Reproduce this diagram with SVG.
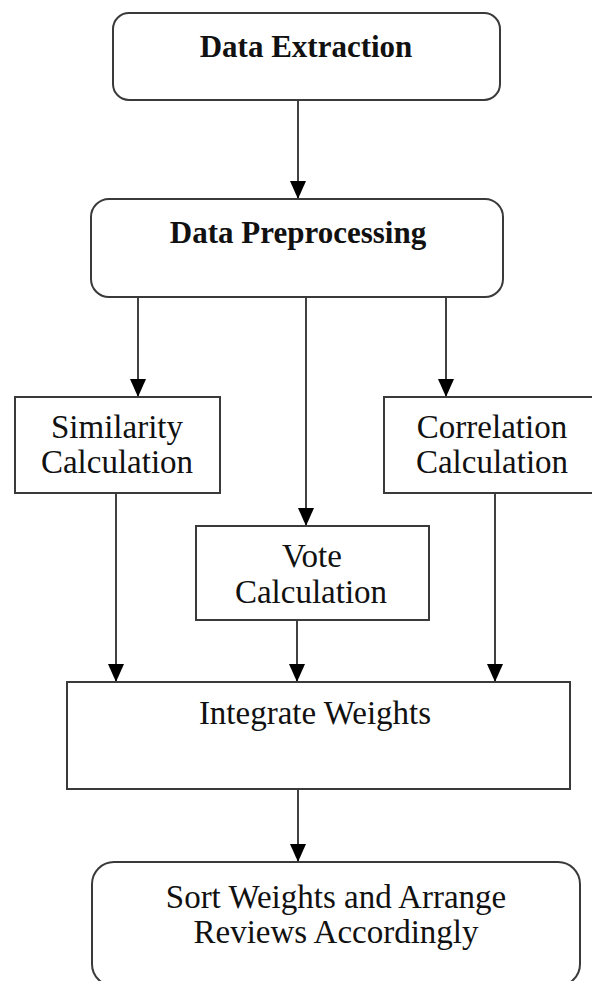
<svg xmlns="http://www.w3.org/2000/svg" width="592" height="981" viewBox="0 0 592 981">
  <style>
    .box { fill: #ffffff; stroke: #3a3a3a; stroke-width: 2; }
    .link { fill: none; stroke: #111111; stroke-width: 1.6; }
    .lbl { font-family: "Liberation Serif", "Times New Roman", serif; font-size: 33px; fill: #111111; text-anchor: middle; }
    .head { font-family: "Liberation Serif", "Times New Roman", serif; font-size: 31px; font-weight: bold; fill: #111111; text-anchor: middle; }
  </style>
  <defs>
    <marker id="arrow" markerUnits="userSpaceOnUse" markerWidth="18" markerHeight="16" refX="18" refY="8" orient="auto">
      <path d="M0,0 L18,8 L0,16 z" fill="#000000"/>
    </marker>
  </defs>

  <rect width="592" height="981" fill="#ffffff"/>

  <!-- connectors -->
  <g id="connectors">
    <line class="link" x1="298" y1="100" x2="298" y2="199" marker-end="url(#arrow)"/>
    <line class="link" x1="138" y1="297" x2="138" y2="397" marker-end="url(#arrow)"/>
    <line class="link" x1="306" y1="297" x2="306" y2="526" marker-end="url(#arrow)"/>
    <line class="link" x1="446" y1="297" x2="446" y2="397" marker-end="url(#arrow)"/>
    <line class="link" x1="116" y1="493" x2="116" y2="682" marker-end="url(#arrow)"/>
    <line class="link" x1="297" y1="620" x2="297" y2="682" marker-end="url(#arrow)"/>
    <line class="link" x1="495" y1="493" x2="495" y2="682" stroke-width="2.6" marker-end="url(#arrow)"/>
    <line class="link" x1="298" y1="789" x2="298" y2="862" marker-end="url(#arrow)"/>
  </g>

  <!-- nodes -->
  <g id="data-extraction">
    <rect class="box" x="113" y="13" width="387" height="87" rx="16" ry="16"/>
    <text class="head" x="306" y="57">Data Extraction</text>
  </g>

  <g id="data-preprocessing">
    <rect class="box" x="91" y="199" width="412" height="98" rx="18" ry="18"/>
    <text class="head" x="298" y="243">Data Preprocessing</text>
  </g>

  <g id="similarity-calculation">
    <rect class="box" x="15" y="397" width="205" height="96"/>
    <text class="lbl" x="117" y="438">Similarity</text>
    <text class="lbl" x="117" y="473">Calculation</text>
  </g>

  <g id="correlation-calculation">
    <rect class="box" x="384" y="397" width="220" height="96"/>
    <text class="lbl" x="492" y="438">Correlation</text>
    <text class="lbl" x="492" y="473">Calculation</text>
  </g>

  <g id="vote-calculation">
    <rect class="box" x="196" y="526" width="233" height="94"/>
    <text class="lbl" x="312" y="567">Vote</text>
    <text class="lbl" x="311" y="603">Calculation</text>
  </g>

  <g id="integrate-weights">
    <rect class="box" x="67" y="682" width="503" height="107"/>
    <text class="lbl" x="315" y="724">Integrate Weights</text>
  </g>

  <g id="sort-weights">
    <rect class="box" x="92" y="862" width="488" height="124" rx="22" ry="22"/>
    <text class="lbl" x="336" y="908">Sort Weights and Arrange</text>
    <text class="lbl" x="336" y="943">Reviews Accordingly</text>
  </g>
</svg>
